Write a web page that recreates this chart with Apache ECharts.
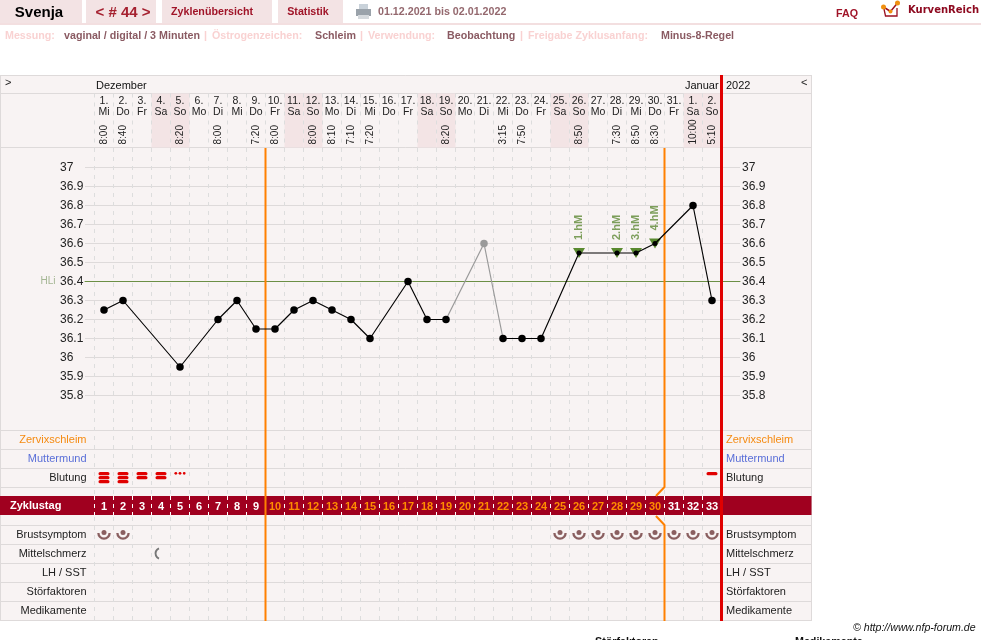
<!DOCTYPE html>
<html>
<head>
<meta charset="utf-8">
<title>Svenja – Zyklus 44</title>
<script src="https://cdn.jsdelivr.net/npm/echarts@6/dist/echarts.min.js"></script>
<style>html,body{margin:0;padding:0;background:#fff}#chart{width:981px;height:640px}</style>
</head>
<body>
<div id="chart"></div>
<script>
// Cycle days, one entry per chart column
const cycleDays = ['1','2','3','4','5','6','7','8','9','10','11','12','13','14','15','16','17','18','19','20','21','22','23','24','25','26','27','28','29','30','31','32','33'];
const dayNumbers = ['1','2','3','4','5','6','7','8','9','10','11','12','13','14','15','16','17','18','19','20','21','22','23','24','25','26','27','28','29','30','31','1','2'];
const weekdays = ['Mi','Do','Fr','Sa','So','Mo','Di','Mi','Do','Fr','Sa','So','Mo','Di','Mi','Do','Fr','Sa','So','Mo','Di','Mi','Do','Fr','Sa','So','Mo','Di','Mi','Do','Fr','Sa','So'];
const measureTimes = ['8:00','8:40','','','8:20','','8:00','','7:20','8:00','','8:00','8:10','7:10','7:20','','','','8:20','','','3:15','7:50','','','8:50','','7:30','8:50','8:30','','10:00','5:10'];

// Waking temperature per cycle day; null where nothing was measured
const temperatures = [36.25,36.3,null,null,35.95,null,36.2,36.3,36.15,36.15,36.25,36.3,36.25,36.2,36.1,null,36.4,36.2,36.2,null,36.6,36.1,36.1,36.1,null,36.55,null,36.55,36.55,36.6,null,36.8,36.3];
const excludedDay = 21;
const coverline = 36.4;
const peakMarks = [[26,'1.hM'],[28,'2.hM'],[29,'3.hM'],[30,'4.hM']];

// Symptom rows
const fertileStartDay = 9;
const fertileEndDay = 30;
const bleedingRows = ['Zervixschleim','Muttermund','Blutung'];
const symptomRows = ['Brustsymptom','Mittelschmerz','LH / SST','Störfaktoren','Medikamente'];
const bleeding = [[1,3],[2,3],[3,2],[4,2],[5,0],[33,1]];
const breastDays = [1,2,25,26,27,28,29,30,31,32,33];
const midPainDays = [4];

const PANEL = '#f8f3f3', RULE = '#dedada', DASH = '#dddddd', BAND = '#a0001f', TAB = '#f3e3e4', WEEKEND = '#f3e4e5';
const ORANGE = '#ff8000', RED = '#e00000', GREEN = '#6c8f45', DARKRED = '#a01428';
const SANS = '"Liberation Sans", Arial, sans-serif';
const COL_LEFT = 94.5, COL_WIDTH = 627;

const isWeekend = d => d === 'Sa' || d === 'So';
const txt = (text, x, y, font, fill, align) => ({
  type: 'text', x, y, z: 5, silent: true,
  style: { text, font, fill, align: align || 'left', verticalAlign: 'middle' }
});
const rect = (x, y, width, height, fill, z) => ({ type: 'rect', z: z === undefined ? -5 : z, silent: true, shape: { x, y, width, height }, style: { fill } });
const rule = (y, x2) => ({ type: 'line', z: -4, silent: true, shape: { x1: 0, y1: y, x2: x2 || 811.5, y2: y }, style: { stroke: RULE, lineWidth: 1 } });

const B11 = 'bold 10.7px ' + SANS, R11 = '11px ' + SANS;
const graphics = [
  // Panel, separators and the cycle-day band
  rect(0, 75, 811.5, 546, PANEL),
  ...[75.5, 93.5, 147.5, 430.5, 449.5, 468.5, 487.5, 525.5, 544.5, 563.5, 582.5, 601.5, 620.5].map(y => rule(y)),
  { type: 'line', z: -4, silent: true, shape: { x1: 0.5, y1: 75, x2: 0.5, y2: 621 }, style: { stroke: RULE } },
  { type: 'line', z: -4, silent: true, shape: { x1: 811.5, y1: 75, x2: 811.5, y2: 621 }, style: { stroke: RULE } },
  rect(0, 496, 811.5, 19, BAND, 1),
  // Navigation tabs
  rect(0, 0, 82, 23, TAB), rect(86, 0, 70, 23, TAB), rect(162, 0, 110, 23, TAB), rect(278, 0, 65, 23, TAB),
  rect(0, 23, 981, 2, '#f3dfe0'),
  txt('Svenja', 39, 13, 'bold 15px ' + SANS, '#000', 'center'),
  txt('< # 44 >', 123, 13, 'bold 15px ' + SANS, '#a5202f', 'center'),
  txt('Zyklenübersicht', 212, 12.5, B11, DARKRED, 'center'),
  txt('Statistik', 308, 12.5, B11, DARKRED, 'center'),
  txt('01.12.2021 bis 02.01.2022', 378, 12.5, B11, '#94686e'),
  txt('FAQ', 836, 14.5, B11, DARKRED),
  txt('KurvenReich', 908, 10.5, 'bold 10px "DejaVu Sans", sans-serif', '#8e0a20'),
  // Printer icon
  rect(359, 4, 9, 6, '#c9d2da', 5), rect(356, 9, 15, 7, '#9aa2aa', 5), rect(358, 15, 11, 4, '#d5d9dd', 5),
  // Logo mark
  { type: 'polyline', z: 5, silent: true, shape: { points: [[883.5,7],[890.5,11.5],[897.5,3]] }, style: { stroke: '#9a1020', lineWidth: 1.5, fill: 'none' } },
  { type: 'polyline', z: 5, silent: true, shape: { points: [[884,9],[885.5,16],[897,16],[897,8]] }, style: { stroke: '#9a1020', lineWidth: 1.3, fill: 'none' } },
  { type: 'circle', z: 5, silent: true, shape: { cx: 883.5, cy: 7, r: 2.5 }, style: { fill: '#f09010' } },
  { type: 'circle', z: 5, silent: true, shape: { cx: 890.5, cy: 11.5, r: 2 }, style: { fill: '#f09010' } },
  { type: 'circle', z: 5, silent: true, shape: { cx: 897.5, cy: 3, r: 2.5 }, style: { fill: '#f09010' } },
  // Settings line
  txt('Messung:', 5, 36, B11, '#f9d2d2'),
  txt('vaginal / digital / 3 Minuten', 64, 36, B11, '#8a5a62'),
  txt('|', 204, 36, B11, '#f9d2d2'),
  txt('Östrogenzeichen:', 212, 36, B11, '#f9d2d2'),
  txt('Schleim', 315, 36, B11, '#8a5a62'),
  txt('|', 360, 36, B11, '#f9d2d2'),
  txt('Verwendung:', 368, 36, B11, '#f9d2d2'),
  txt('Beobachtung', 447, 36, B11, '#8a5a62'),
  txt('|', 520, 36, B11, '#f9d2d2'),
  txt('Freigabe Zyklusanfang:', 528, 36, B11, '#f9d2d2'),
  txt('Minus-8-Regel', 661, 36, B11, '#8a5a62'),
  // Month row
  txt('>', 5, 83, R11, '#222'),
  txt('Dezember', 96, 85.5, R11, '#111'),
  txt('Januar', 685, 85.5, R11, '#111'),
  txt('2022', 726, 85.5, R11, '#111'),
  txt('<', 801, 83, R11, '#222'),
  txt('Zyklustag', 10, 506, 'bold 11px ' + SANS, '#fff'),
  // Footer
  txt('© http://www.nfp-forum.de', 853, 628, 'italic 10.6px ' + SANS, '#111'),
  txt('Störfaktoren', 595, 642, B11, '#111'),
  txt('Medikamente', 795, 642, B11, '#111')
];

// Grids: 0 header, 1 column dashes, 2 temperature rules, 3 temperature data,
// 4 upper rows, 5 cycle-day band, 6 lower rows, 7 phase lines
const grids = [
  { left: COL_LEFT, width: COL_WIDTH, top: 93.5, height: 54 },
  { left: COL_LEFT, width: COL_WIDTH, top: 148, height: 473 },
  { left: 85, width: 655, top: 167.5, height: 228 },
  { left: COL_LEFT, width: COL_WIDTH, top: 167.5, height: 228 },
  { left: COL_LEFT, width: COL_WIDTH, top: 430, height: 57 },
  { left: COL_LEFT, width: COL_WIDTH, top: 496, height: 19 },
  { left: COL_LEFT, width: COL_WIDTH, top: 525, height: 95 },
  { left: COL_LEFT, width: COL_WIDTH, top: 75, height: 546 }
];

const hiddenCat = (gridIndex, data) => ({ type: 'category', gridIndex, data, show: false });
const columnDashes = { show: true, interval: 0, lineStyle: { color: DASH, type: [4, 5], width: 1 } };

const xAxes = [
  { type: 'category', gridIndex: 0, z: 3, position: 'top', data: dayNumbers.map((d, i) => d + '.\n' + weekdays[i]),
    axisLine: { show: false }, axisTick: { show: false }, splitLine: columnDashes,
    axisLabel: { inside: true, interval: 0, margin: 2, fontFamily: SANS, fontSize: 10.5, lineHeight: 11, color: '#222' } },
  { type: 'category', gridIndex: 0, z: 3, position: 'bottom', data: measureTimes.map((t, i) => t || ' ' + i),
    axisLine: { show: false }, axisTick: { show: false },
    axisLabel: { inside: true, interval: 0, margin: 3, rotate: 90, fontFamily: SANS, fontSize: 10, color: '#222',
      formatter: v => v.trim().includes(':') ? v : '' } },
  { type: 'category', gridIndex: 1, data: cycleDays, axisLine: { show: false }, axisTick: { show: false }, axisLabel: { show: false }, splitLine: columnDashes },
  { type: 'value', gridIndex: 2, min: 0, max: 1, show: false },
  hiddenCat(3, cycleDays),
  hiddenCat(4, cycleDays),
  { type: 'category', gridIndex: 5, z: 3, position: 'bottom', data: cycleDays,
    axisLine: { show: false }, axisTick: { show: false },
    splitLine: { show: true, interval: 0, z: 3, lineStyle: { color: '#fff', type: [4, 4] } },
    axisLabel: { inside: true, interval: 0, margin: 3, fontFamily: SANS, fontWeight: 'bold', fontSize: 11,
      color: (v, i) => (+v > fertileStartDay && +v <= fertileEndDay ? '#ff8c00' : '#fff') } },
  hiddenCat(6, cycleDays),
  { type: 'value', gridIndex: 7, min: 0, max: 33, show: false }
];

const tempAxis = (position, extra) => Object.assign({
  type: 'value', gridIndex: 2, position, min: 35.8, max: 37, interval: 0.1,
  axisLine: { show: false }, axisTick: { show: false }, splitLine: { show: false },
  axisLabel: { fontFamily: SANS, fontSize: 12, color: '#222', align: 'left' }
}, extra);

const rowAxis = (gridIndex, rows, position, margin) => ({
  type: 'category', gridIndex, position, inverse: true, data: rows,
  axisLine: { show: false }, axisTick: { show: false },
  axisLabel: { interval: 0, margin, fontFamily: SANS, fontSize: 11, align: position === 'left' ? 'right' : 'left',
    color: v => v === 'Zervixschleim' ? '#f58a10' : v === 'Muttermund' ? '#5a6fd8' : '#222' }
});

const yAxes = [
  { type: 'value', gridIndex: 0, min: 0, max: 1, show: false },
  { type: 'value', gridIndex: 1, min: 0, max: 1, show: false },
  tempAxis('left', { axisLabel: { fontFamily: SANS, fontSize: 12, color: '#222', align: 'left', margin: 25 },
    splitLine: { show: true, lineStyle: { color: RULE, width: 1 } } }),
  tempAxis('right', { axisLabel: { fontFamily: SANS, fontSize: 12, color: '#222', align: 'left', margin: 2 } }),
  { type: 'value', gridIndex: 3, min: 35.8, max: 37, interval: 0.1, show: false },
  rowAxis(4, bleedingRows, 'left', 8),
  rowAxis(4, bleedingRows, 'right', 4.5),
  { type: 'value', gridIndex: 5, min: 0, max: 1, show: false },
  rowAxis(6, symptomRows, 'left', 8),
  rowAxis(6, symptomRows, 'right', 4.5),
  { type: 'value', gridIndex: 7, min: 75, max: 621, inverse: true, show: false }
];
// Axis indices used by the series below
const X = { head: 0, rule: 3, temp: 4, upper: 5, lower: 7, phase: 8 };
const Y = { head: 0, rule: 2, temp: 4, upper: 5, lower: 8, phase: 10 };

const pointsBetween = (from, to, skip) => temperatures
  .map((t, i) => [i, t])
  .filter(([i, t]) => t !== null && i + 1 >= from && i + 1 <= to && i + 1 !== skip);

const dataLine = (points, color, width) => ({
  type: 'line', xAxisIndex: X.temp, yAxisIndex: Y.temp, z: 6, silent: true, clip: false,
  data: points, symbol: 'circle', symbolSize: 7.5, showAllSymbol: true,
  lineStyle: { color, width: width || 1.15 }, itemStyle: { color }
});
const peakDays = peakMarks.map(p => p[0]);

const phaseLine = (points, color, width) => ({
  type: 'line', xAxisIndex: X.phase, yAxisIndex: Y.phase, z: 4, silent: true, clip: false,
  symbol: 'none', data: points, lineStyle: { color, width }, connectNulls: false
});

const series = [
  // Weekend shading in the header
  { type: 'bar', xAxisIndex: X.head, yAxisIndex: Y.head, barWidth: '100%', silent: true, z: 1,
    itemStyle: { color: WEEKEND },
    data: weekdays.map(d => isWeekend(d) ? 1 : null) },
  // Coverline, running out past the columns
  { type: 'line', xAxisIndex: X.rule, yAxisIndex: Y.rule, z: 3, silent: true, symbol: 'circle', symbolSize: 1,
    itemStyle: { color: GREEN },
    data: [[0, coverline], [1, coverline]], lineStyle: { color: GREEN, width: 1 },
    label: { show: true, position: 'left', distance: 29, formatter: p => p.dataIndex === 0 ? 'HLi' : '',
      fontFamily: SANS, fontSize: 10, color: '#a3b592' } },
  // Phase boundaries and the end of the cycle
  phaseLine([[fertileStartDay, 148], [fertileStartDay, 621]], ORANGE, 2),
  phaseLine([[fertileEndDay, 148], [fertileEndDay, 487], [29.55, 496], [null, null], [29.55, 516], [fertileEndDay, 525], [fertileEndDay, 621]], ORANGE, 2),
  phaseLine([[33, 75], [33, 621]], RED, 3),
  // Temperature curve: the excluded reading sits on a grey stretch
  { ...dataLine([[18, temperatures[18]], [excludedDay - 1, temperatures[excludedDay - 1]], [21, temperatures[21]]], '#9a9a9a', 1.2),
    symbol: (v, p) => p.dataIndex === 1 ? 'circle' : 'none', z: 5 },
  { ...dataLine(pointsBetween(1, 19), '#000') },
  { ...dataLine(pointsBetween(22, 33), '#000'),
    symbol: 'circle', symbolSize: (v) => peakDays.includes(v[0] + 1) ? 5 : 7.5 },
  // Peak markers
  { type: 'scatter', xAxisIndex: X.temp, yAxisIndex: Y.temp, z: 5, silent: true, clip: false,
    symbol: 'path://M0 0L12 0L6 10Z', symbolSize: [12, 10], itemStyle: { color: '#5a8a30', opacity: 1 },
    data: peakMarks.map(([d, name]) => ({ value: [d - 1, temperatures[d - 1]], name })),
    label: { show: true, position: 'top', distance: 8, rotate: 90, align: 'left', verticalAlign: 'middle',
      formatter: p => p.name, fontFamily: SANS, fontWeight: 'bold', fontSize: 11, color: '#7d9e5b' } },
  // Bleeding strength as stacked stripes, spotting as dots
  { type: 'custom', xAxisIndex: X.upper, yAxisIndex: Y.upper, z: 6, silent: true, clip: false,
    encode: { x: 0, y: 1 },
    data: bleeding.map(([d, level]) => [d - 1, 2, level]),
    renderItem: (params, api) => {
      const [cx, cy] = api.coord([api.value(0), api.value(1)]);
      const level = api.value(2);
      const style = { fill: '#e00000' };
      if (level === 0) {
        return { type: 'group', children: [-4.2, 0, 4.2].map(dx => ({
          type: 'circle', shape: { cx: cx + dx, cy: cy - 4.2, r: 1.4 }, style })) };
      }
      const children = [];
      for (let i = 0; i < level; i++) {
        children.push({ type: 'rect', shape: { x: cx - 5.5, y: cy - 5.5 + i * 4, width: 11, height: 3.3, r: 1.6 }, style });
      }
      return { type: 'group', children };
    } },
  // Breast symptom: dot over a smile arc
  { type: 'custom', xAxisIndex: X.lower, yAxisIndex: Y.lower, z: 6, silent: true, clip: false,
    encode: { x: 0, y: 1 },
    data: breastDays.map(d => [d - 1, 0]),
    renderItem: (params, api) => {
      const [cx, cy] = api.coord([api.value(0), api.value(1)]);
      return { type: 'group', children: [
        { type: 'arc', shape: { cx, cy: cy - 1.5, r: 5.6, startAngle: 0, endAngle: Math.PI },
          style: { stroke: '#8a5f60', lineWidth: 2.3, fill: 'none' } },
        { type: 'circle', shape: { cx, cy: cy - 2, r: 2.5 }, style: { fill: '#8a5f60' } }
      ] };
    } },
  // Mid-cycle pain: open crescent
  { type: 'custom', xAxisIndex: X.lower, yAxisIndex: Y.lower, z: 6, silent: true, clip: false,
    encode: { x: 0, y: 1 },
    data: midPainDays.map(d => [d - 1, 1]),
    renderItem: (params, api) => {
      const [cx, cy] = api.coord([api.value(0), api.value(1)]);
      return { type: 'arc', shape: { cx, cy, r: 5.5, startAngle: Math.PI * 0.62, endAngle: Math.PI * 1.38 },
        style: { stroke: '#777', lineWidth: 2, fill: 'none' } };
    } }
];

const chart = echarts.init(document.getElementById('chart'), null, { width: 981, height: 640 });
chart.setOption({
  animation: false,
  backgroundColor: '#fff',
  graphic: { elements: graphics },
  grid: grids,
  xAxis: xAxes,
  yAxis: yAxes,
  series
});
</script>
</body>
</html>
